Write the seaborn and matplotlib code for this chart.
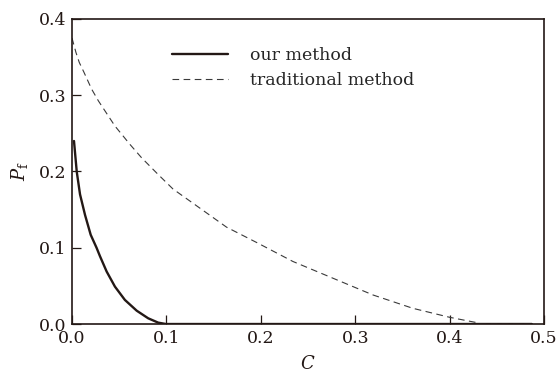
import matplotlib
matplotlib.use("Agg")
import matplotlib.pyplot as plt
import seaborn as sns
import pandas as pd

# valores
c_ours = [0.0021, 0.005, 0.0085, 0.0138, 0.0198, 0.026, 0.0296, 0.0367, 0.0455, 0.056, 0.0685,
          0.0807, 0.0913, 0.0995, 0.2, 0.3, 0.4, 0.487]
pf_ours = [0.240, 0.200, 0.170, 0.143, 0.117, 0.100, 0.089, 0.0688, 0.049, 0.0316, 0.0175,
           0.0075, 0.0018, 0.0, 0.0, 0.0, 0.0, 0.0]

c_trad = [0.0, 0.0042, 0.0077, 0.0127, 0.0208, 0.028, 0.0455, 0.0614, 0.0737, 0.0913, 0.107, 0.1354,
          0.1637, 0.1954, 0.234, 0.2765, 0.319, 0.361, 0.4, 0.428, 0.433, 0.49]
pf_trad = [0.375, 0.356, 0.343, 0.330, 0.308, 0.2925, 0.2596, 0.2355, 0.218, 0.196, 0.177, 0.152,
           0.127, 0.107, 0.082, 0.060, 0.038, 0.0206, 0.0088, 0.002, 0.0, 0.0]

labels = ["our method", "traditional method"]

df_ours = pd.DataFrame({"C": c_ours, "Pf": pf_ours})
df_trad = pd.DataFrame({"C": c_trad, "Pf": pf_trad})

sns.set_style("white")
plt.rcParams["font.family"] = ["DejaVu Serif"]
plt.rcParams["mathtext.fontset"] = "dejavuserif"

fig = plt.figure(figsize=(5.56, 3.72), dpi=100)
ax = fig.add_axes([0.1295, 0.129, 0.849, 0.82])

sns.lineplot(data=df_ours, x="C", y="Pf", ax=ax, color="#231815", linewidth=1.7,
             sort=False, estimator=None, label=labels[0])
sns.lineplot(data=df_trad, x="C", y="Pf", ax=ax, color="#3a3a3a", linewidth=0.8,
             linestyle=(0, (6, 4)), sort=False, estimator=None, label=labels[1])

ax.set_xlim(0, 0.5)
ax.set_ylim(0, 0.4)
ax.set_xticks([0.0, 0.1, 0.2, 0.3, 0.4, 0.5])
ax.set_yticks([0.0, 0.1, 0.2, 0.3, 0.4])
ax.xaxis.set_major_formatter(matplotlib.ticker.FormatStrFormatter("%.1f"))
ax.yaxis.set_major_formatter(matplotlib.ticker.FormatStrFormatter("%.1f"))
ax.tick_params(direction="in", length=6.5, width=0.9, labelsize=12.5, colors="#231815",
               bottom=True, left=True, top=False, right=False, pad=4)
for s in ax.spines.values():
    s.set_color("#231815")
    s.set_linewidth(1.2)

ax.set_xlabel("$C$", fontsize=13, color="#231815", labelpad=6)
ax.set_ylabel("$P_\\mathrm{f}$", fontsize=13, color="#231815", labelpad=6)

ax.legend(loc="upper left", bbox_to_anchor=(0.179, 0.96), frameon=False, fontsize=12.5,
          handlelength=3.2, handletextpad=1.3, labelspacing=0.45)

plt.savefig("out.png", dpi=100)
